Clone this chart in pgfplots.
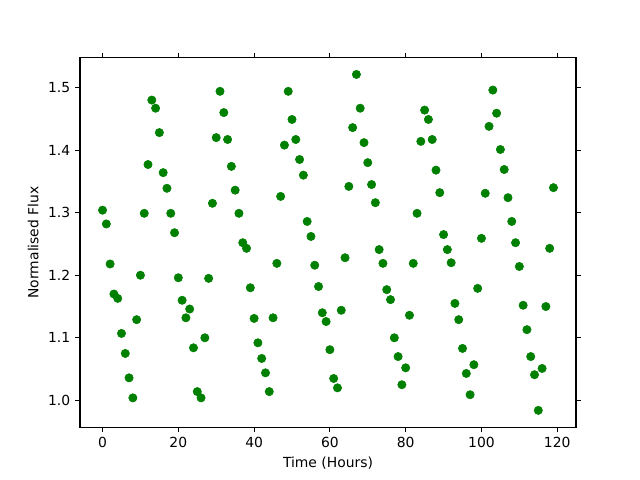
\documentclass[border=0pt]{standalone}
\usepackage{pgfplots}
\pgfplotsset{compat=1.18}
\usepackage{fontspec}
\setmainfont{DejaVu Sans}
\definecolor{mplgreen}{rgb}{0,0.5,0}

\begin{document}
\fontsize{10}{12}\selectfont
\begin{tikzpicture}
\path (-57.6pt,-38.016pt) rectangle (403.2pt,307.584pt);
\begin{axis}[
  at={(0pt,0pt)}, anchor=south west,
  scale only axis,
  width=357.12pt, height=266.112pt,
  xmin=-5.95, xmax=124.95,
  ymin=0.9571, ymax=1.5479,
  xtick={0,20,40,60,80,100,120},
  ytick={1.0,1.1,1.2,1.3,1.4,1.5},
  yticklabel style={/pgf/number format/.cd, fixed, fixed zerofill, precision=1},
  /pgf/number format/assume math mode=true,
  tick align=outside,
  major tick length=3.5pt,
  every tick/.style={black, line width=0.8pt},
  axis line style={line width=0.8pt},
  tick label style={font=\fontsize{10}{12}\selectfont},
  label style={font=\fontsize{10}{12}\selectfont},
  xlabel={Time (Hours)},
  ylabel={Normalised Flux},
  clip=false,
]
\addplot[only marks, mark=*, mark size=3pt, mplgreen, mark options={draw=mplgreen, fill=mplgreen}] table {
x y
0 1.304
1 1.282
2 1.218
3 1.170
4 1.163
5 1.107
6 1.075
7 1.036
8 1.004
9 1.129
10 1.200
11 1.299
12 1.377
13 1.480
14 1.467
15 1.428
16 1.364
17 1.339
18 1.299
19 1.268
20 1.196
21 1.160
22 1.132
23 1.146
24 1.084
25 1.014
26 1.004
27 1.100
28 1.195
29 1.315
30 1.420
31 1.494
32 1.460
33 1.417
34 1.374
35 1.336
36 1.299
37 1.252
38 1.243
39 1.180
40 1.131
41 1.092
42 1.067
43 1.044
44 1.014
45 1.132
46 1.219
47 1.326
48 1.408
49 1.494
50 1.449
51 1.417
52 1.385
53 1.360
54 1.286
55 1.262
56 1.216
57 1.182
58 1.140
59 1.126
60 1.081
61 1.035
62 1.020
63 1.144
64 1.228
65 1.342
66 1.436
67 1.521
68 1.467
69 1.412
70 1.380
71 1.345
72 1.316
73 1.241
74 1.219
75 1.177
76 1.161
77 1.100
78 1.070
79 1.025
80 1.052
81 1.136
82 1.219
83 1.299
84 1.414
85 1.464
86 1.449
87 1.417
88 1.368
89 1.332
90 1.265
91 1.241
92 1.220
93 1.155
94 1.129
95 1.083
96 1.043
97 1.009
98 1.057
99 1.179
100 1.259
101 1.331
102 1.438
103 1.496
104 1.459
105 1.401
106 1.369
107 1.324
108 1.286
109 1.252
110 1.214
111 1.152
112 1.113
113 1.070
114 1.041
115 0.984
116 1.051
117 1.150
118 1.243
119 1.340
};
\end{axis}
\end{tikzpicture}
\end{document}
